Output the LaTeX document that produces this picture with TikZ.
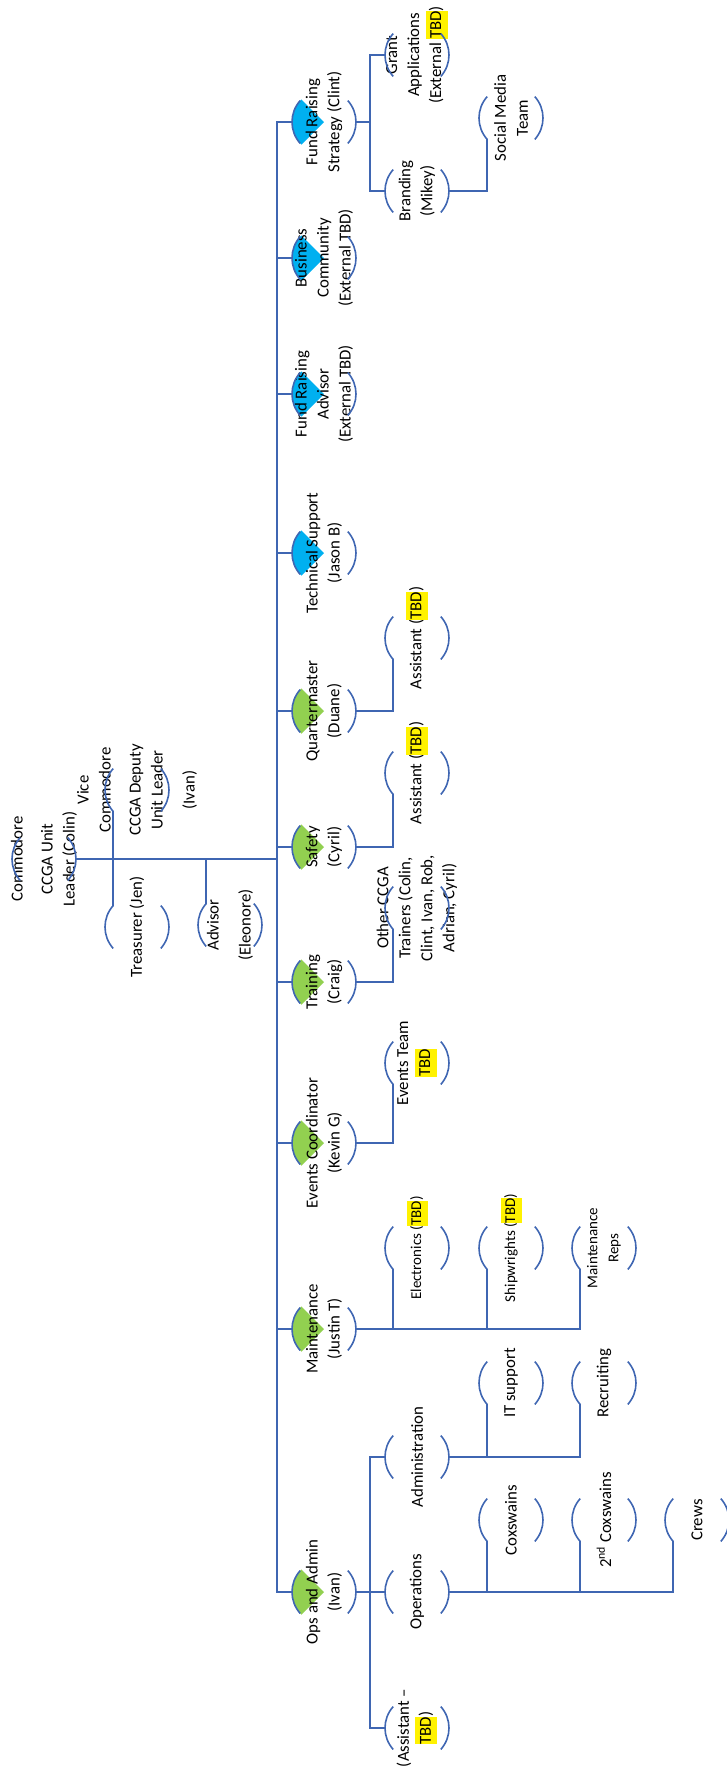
\documentclass[tikz,border=0pt]{standalone}
\usepackage{fontspec}
\setmainfont{Carlito}
\usetikzlibrary{backgrounds}
\definecolor{linkblue}{RGB}{63,102,178}
\definecolor{skyfill}{RGB}{0,176,240}
\definecolor{leaffill}{RGB}{146,208,80}
\newcommand{\tbd}{{\setlength{\fboxsep}{0pt}\colorbox{yellow}{\strut TBD}}}

\begin{document}
\begin{tikzpicture}[x=1pt,y=-1pt,
  link/.style={draw=linkblue,line width=1.6pt},
  unit/.style={circle,minimum size=64pt,inner sep=0pt,outer sep=0pt},
  txt/.style={rotate=90,align=center,inner sep=0pt,font=\fontsize{16.8}{22}\selectfont},
  small txt/.style={txt,font=\fontsize{15}{21}\selectfont}]
\useasboundingbox (0,0) rectangle (727,1773);
\coordinate (spine) at (277,0);
\coordinate (frsbus) at (370,0);
\coordinate (opsbus) at (370,0);

% Root and helpers
  \node[unit,label={[txt]center:{Commodore\\[8pt]CCGA Unit\\Leader (Colin)}}] (root) at (44,859) {};
  \node[unit,label={[txt]center:{Vice\\Commodore\\[8pt]CCGA Deputy\\Unit Leader\\[10pt](Ivan)}}] (vice) at (137,790) {};
  \node[unit,label={[txt]center:{Treasurer (Jen)}}] (treas) at (137,927) {};
  \node[unit,label={[txt]center:{Advisor\\[10pt](Eleonore)}}] (adv) at (230,925) {};

% First level
  \node[unit,label={[txt]center:{Fund Raising\\Strategy (Clint)}}] (frs) at (324,122) {};
  \node[unit,label={[txt]center:{Business\\Community\\(External TBD)}}] (bc) at (324,258) {};
  \node[unit,label={[txt]center:{Fund Raising\\Advisor\\(External TBD)}}] (fra) at (324,394) {};
  \node[unit,label={[txt]center:{Technical Support\\(Jason B)}}] (tech) at (324,553) {};
  \node[unit,label={[txt]center:{Quartermaster\\(Duane)}}] (qm) at (324,711) {};
  \node[unit,label={[txt]center:{Safety\\(Cyril)}}] (safety) at (324,847) {};
  \node[unit,label={[txt]center:{Training\\(Craig)}}] (training) at (324,982) {};
  \node[unit,label={[txt]center:{Events Coordinator\\(Kevin G)}}] (events) at (324,1143) {};
  \node[unit,label={[txt]center:{Maintenance\\(Justin T)}}] (maint) at (324,1329) {};
  \node[unit,label={[txt]center:{Ops and Admin\\(Ivan)}}] (ops) at (324,1592) {};

% Fund raising branch
  \node[unit,label={[txt]center:{Grant\\Applications\\(External \tbd)}}] (grant) at (417,55) {};
  \node[unit,label={[txt]center:{Branding\\(Mikey)}}] (brand) at (417,191) {};
  \node[unit,label={[txt]center:{Social Media\\Team}}] (social) at (511,118) {};

% Assistants, trainers, events
  \node[unit,label={[txt]center:{Assistant (\tbd)}}] (asst2) at (417,638) {};
  \node[unit,label={[txt]center:{Assistant (\tbd)}}] (asst1) at (417,773) {};
  \node[unit,label={[txt]center:{Other CCGA\\Trainers (Colin,\\Clint, Ivan, Rob,\\Adrian, Cyril)}}] (trainers) at (417,908) {};
  \node[unit,label={[txt]center:{Events Team\\\tbd}}] (evteam) at (417,1063) {};

% Maintenance branch
  \node[unit,label={[small txt]center:{Electronics (\tbd)}}] (elec) at (417,1248) {};
  \node[unit,label={[small txt]center:{Shipwrights (\tbd)}}] (ship) at (511,1248) {};
  \node[unit,label={[small txt]center:{Maintenance\\Reps}}] (mreps) at (604,1248) {};

% Ops and admin branch
  \node[unit,label={[txt]center:{Administration}}] (admin) at (417,1457) {};
  \node[unit,label={[txt]center:{Operations}}] (operations) at (417,1592) {};
  \node[unit,label={[txt]center:{(Assistant --\\\tbd)}}] (asst3) at (417,1728) {};
  \node[unit,label={[txt]center:{IT support}}] (itsup) at (511,1383) {};
  \node[unit,label={[txt]center:{Recruiting}}] (recruit) at (604,1383) {};
  \node[unit,label={[txt]center:{Coxswains}}] (cox) at (511,1520) {};
  \node[unit,label={[txt]center:{2\textsuperscript{nd} Coxswains}}] (cox2) at (604,1520) {};
  \node[unit,label={[txt]center:{Crews}}] (crews) at (697,1520) {};

% picture wedges
\begin{scope}[on background layer]
  \foreach \n in {frs,bc,fra,tech}
    \fill[skyfill] (\n.center) -- (\n.135) arc[start angle=135,end angle=225,radius=32pt] -- cycle;
  \foreach \n in {qm,safety,training,events,maint,ops}
    \fill[leaffill] (\n.center) -- (\n.135) arc[start angle=135,end angle=225,radius=32pt] -- cycle;
\end{scope}

% ARCS
  \foreach \n in {root,vice,treas,adv,frs,bc,fra,tech,qm,safety,training,events,maint,ops,
      grant,brand,social,asst1,asst2,trainers,evteam,elec,ship,mreps,
      admin,operations,asst3,itsup,recruit,cox,cox2,crews}
    \draw[link] (\n.138) arc[start angle=138,end angle=222,radius=32pt]
                (\n.-42) arc[start angle=-42,end angle=42,radius=32pt];

% spine
  \draw[link] (root.east) -- (root.east -| spine);
  \draw[link] (frs.west) -- (frs.west -| spine) -- (ops.west -| spine) -- (ops.west);
  \foreach \n in {bc,fra,tech,qm,safety,training,events,maint}
    \draw[link] (\n.west) -- (\n.west -| spine);
  \draw[link] (vice.222) -- (treas.138);
  \draw[link] (adv.138) -- (adv.138 |- root.east);

% second level
  \draw[link] (frs.east) -- (frs.east -| frsbus);
  \draw[link] (grant.west) -- (grant.west -| frsbus) -- (brand.west -| frsbus) -- (brand.west);
  \draw[link] (brand.east) -| (social.222);
  \draw[link] (qm.east) -| (asst2.222);
  \draw[link] (safety.east) -| (asst1.222);
  \draw[link] (training.east) -| (trainers.222);
  \draw[link] (events.east) -| (evteam.222);
  \draw[link] (maint.east) -| (mreps.222);
  \draw[link] (elec.222) -- (elec.222 |- maint.east);
  \draw[link] (ship.222) -- (ship.222 |- maint.east);
  \draw[link] (ops.east) -- (operations.west);
  \draw[link] (admin.west) -- (admin.west -| opsbus) -- (asst3.west -| opsbus) -- (asst3.west);
  \draw[link] (admin.east) -| (recruit.222);
  \draw[link] (itsup.222) -- (itsup.222 |- admin.east);
  \draw[link] (operations.east) -| (crews.222);
  \draw[link] (cox.222) -- (cox.222 |- operations.east);
  \draw[link] (cox2.222) -- (cox2.222 |- operations.east);

\end{tikzpicture}
\end{document}
